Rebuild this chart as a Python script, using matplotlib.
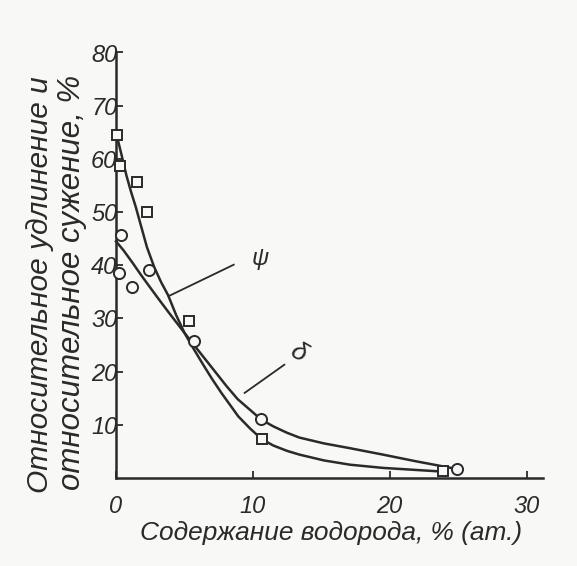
import matplotlib
matplotlib.use('Agg')
import matplotlib.pyplot as plt

# ---------------- data ----------------
# measured points: psi (squares) and delta (circles)
psi_x = [0.1, 0.26, 1.5, 2.3, 5.3, 10.65, 23.9]
psi_y = [64.5, 58.7, 55.6, 50.1, 29.6, 7.3, 1.3]
delta_x = [0.38, 0.24, 1.15, 2.4, 5.7, 10.6, 24.9]
delta_y = [45.6, 38.5, 35.9, 39.2, 25.8, 11.0, 1.7]

# drawn curves
psi_curve_x = [0.0, 0.4, 0.77, 1.1, 1.44, 1.85, 2.26, 2.8, 3.3, 3.8, 4.4, 5.0,
               5.6, 6.3, 7.0, 7.7, 8.4, 8.93, 9.8, 10.65, 11.5, 12.5, 13.4,
               15.2, 17.1, 19.5, 22.0, 23.9]
psi_curve_y = [65.0, 60.8, 56.8, 53.8, 51.0, 47.2, 43.4, 39.6, 36.8, 34.4, 30.6,
               27.3, 24.6, 21.6, 18.7, 16.0, 13.5, 11.6, 9.3, 7.3, 6.1, 5.1,
               4.4, 3.3, 2.5, 1.9, 1.5, 1.2]
delta_curve_x = [0.0, 0.55, 1.2, 1.82, 2.5, 3.1, 3.8, 4.4, 5.0, 5.7, 6.5, 7.3,
                 8.1, 8.9, 9.8, 10.6, 11.5, 12.5, 13.4, 15.2, 17.1, 19.5, 22.0,
                 24.9]
delta_curve_y = [44.5, 42.8, 40.5, 38.2, 35.8, 33.7, 31.3, 29.3, 27.3, 25.0,
                 22.4, 19.8, 17.2, 14.8, 12.8, 11.0, 9.7, 8.5, 7.6, 6.5, 5.6,
                 4.4, 3.1, 1.7]

# curve labels with their leader lines
psi_label = 'ψ'
psi_leader_x = [3.85, 8.6]
psi_leader_y = [34.2, 40.1]
delta_label = 'δ'
delta_leader_x = [9.4, 12.3]
delta_leader_y = [16.0, 21.3]

x_ticks = [0, 10, 20, 30]
y_ticks = [10, 20, 30, 40, 50, 60, 70, 80]
x_label = 'Содержание водорода, % (ат.)'
y_label_1 = 'Относительное удлинение и'
y_label_2 = 'относительное сужение, %'

# ---------------- style ----------------
INK = '#2a2a2a'
BG = '#f8f8f6'
FAM = ['Liberation Sans Narrow', 'Liberation Sans', 'DejaVu Sans']
W, H = 577, 566

fig = plt.figure(figsize=(W / 100, H / 100), dpi=100, facecolor=BG)
ax = fig.add_axes([116 / W, 88 / H, 427 / W, 425.5 / H])
ax.set_facecolor('none')
ax.set_xlim(0, 31.2)
ax.set_ylim(0, 80)
for s in ('top', 'right'):
    ax.spines[s].set_visible(False)
for s in ('left', 'bottom'):
    ax.spines[s].set_linewidth(1.8)
    ax.spines[s].set_color(INK)

ax.plot(psi_curve_x, psi_curve_y, color=INK, lw=1.8, clip_on=False, zorder=2,
        solid_joinstyle='round')
ax.plot(delta_curve_x, delta_curve_y, color=INK, lw=1.8, clip_on=False, zorder=2,
        solid_joinstyle='round')
ax.plot(psi_x, psi_y, ls='none', marker='s', ms=7.2, mfc=BG, mec=INK, mew=1.4,
        clip_on=False, zorder=3)
ax.plot(delta_x, delta_y, ls='none', marker='o', ms=8, mfc=BG, mec=INK, mew=1.4,
        clip_on=False, zorder=3)

ax.plot(psi_leader_x, psi_leader_y, color=INK, lw=1.3, zorder=2)
ax.plot(delta_leader_x, delta_leader_y, color=INK, lw=1.3, zorder=2)
ax.text(9.9, 41.2, psi_label, fontsize=17, style='italic', color=INK,
        family=FAM, ha='left', va='center')
ax.text(13.3, 23.6, delta_label, fontsize=19, style='italic', color=INK,
        family=FAM, ha='center', va='center', rotation=-30)

ax.set_xticks(x_ticks)
ax.set_yticks(y_ticks)
ax.tick_params(axis='both', direction='in', length=5, width=1.3, colors=INK,
               labelsize=17)
ax.tick_params(axis='x', pad=12.5)
ax.tick_params(axis='y', pad=-1)
for lbl in ax.get_xticklabels() + ax.get_yticklabels():
    lbl.set_fontstyle('italic')
    lbl.set_family(FAM)

tx = fig.text(331 / W, 1 - 533 / H, x_label, fontsize=18, style='italic',
              color=INK, family=FAM, ha='center', va='center')
ty1 = fig.text(40 / W, 1 - 285 / H, y_label_1, fontsize=18, style='italic',
               color=INK, family=FAM, ha='center', va='center', rotation=90)
ty2 = fig.text(72 / W, 1 - 282 / H, y_label_2, fontsize=18, style='italic',
               color=INK, family=FAM, ha='center', va='center', rotation=90)

# fit label lengths to the reference
fig.canvas.draw()
r = fig.canvas.get_renderer()
for t, target, vertical in ((tx, 383, False), (ty1, 416, True), (ty2, 415, True)):
    e = t.get_window_extent(r)
    cur = e.height if vertical else e.width
    t.set_fontsize(t.get_fontsize() * target / cur)

fig.savefig('out.png', dpi=100, facecolor=BG)
